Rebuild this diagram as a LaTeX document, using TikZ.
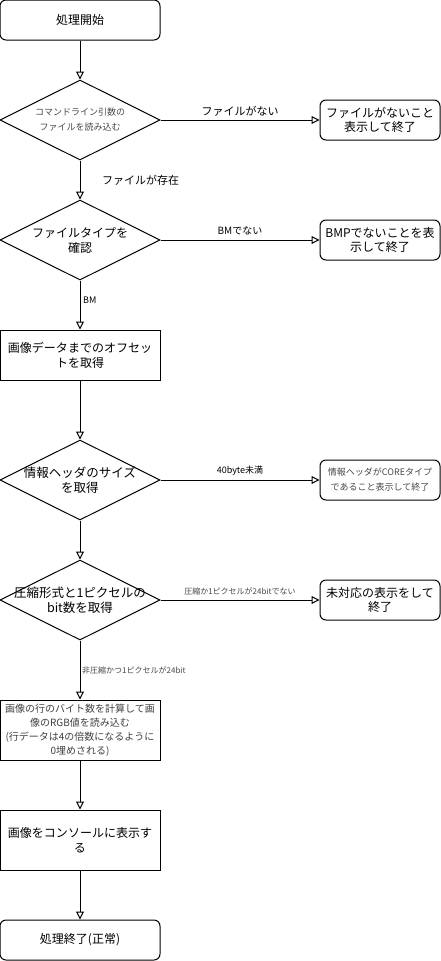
\documentclass[tikz,border=0pt]{standalone}
\usepackage{fontspec}
\setmainfont{Noto Sans CJK JP}
\usetikzlibrary{arrows.meta,shapes.geometric}
\tikzset{
  base/.style={draw=black, line width=1pt, inner sep=1pt, align=center, font=\fontsize{12}{15}\selectfont},
  rbox/.style={base, rounded corners=6pt, minimum width=160pt, minimum height=40pt},
  sbox/.style={base, rounded corners=6pt, minimum width=120pt, minimum height=40pt},
  pbox/.style={base, minimum width=160pt},
  dia/.style={draw=black, line width=1pt, diamond, minimum width=160pt, minimum height=80pt, aspect=2, inner sep=0pt},
  dtext/.style={align=center, inner sep=0pt, font=\fontsize{12}{15}\selectfont},
  gsmall/.style={text=black!72, font=\fontsize{9}{15}\selectfont},
  lbl/.style={font=\fontsize{11}{13}\selectfont, inner sep=1pt},
  lbls/.style={font=\fontsize{9}{11}\selectfont, inner sep=1pt},
  lblg/.style={font=\fontsize{8}{10}\selectfont, text=black!72, inner sep=1pt},
  arr/.style={draw=black, line width=1pt, -{Triangle[open, length=8pt, width=8pt, fill=white]}},
}
\begin{document}
\begin{tikzpicture}[x=1pt, y=-1pt]
\useasboundingbox (0,0) rectangle (441,961);
% main column
\node[rbox] (start) at (80,20) {処理開始};
\node[dia] (d1) at (80,120) {};
\node[dtext, gsmall] (d1t) at (d1) {コマンドライン引数の\\ファイルを読み込む};
\node[dia] (d2) at (80,240) {};
\node[dtext] (d2t) at (d2) {ファイルタイプを\\確認};
\node[pbox, minimum height=50pt] (b3) at (80,355) {画像データまでのオフセッ\\トを取得};
\node[dia] (d4) at (80,480) {};
\node[dtext, font=\fontsize{12.5}{15}\selectfont] (d4t) at (d4) {情報ヘッダのサイズ\\を取得};
\node[dia] (d5) at (80,600) {};
\node[dtext, font=\fontsize{12.5}{15}\selectfont] (d5t) at (d5) {圧縮形式と1ピクセルの\\bit数を取得};
\node[pbox, minimum height=60pt, font=\fontsize{10}{14}\selectfont, text=black!75] (b6) at (80,730) {画像の行のバイト数を計算して画\\像のRGB値を読み込む\\(行データは4の倍数になるように\\0埋めされる)};
\node[pbox, minimum height=60pt] (b7) at (80,840) {画像をコンソールに表示す\\る};
\node[rbox] (end) at (80,940) {処理終了(正常)};
% right column
\node[sbox, font=\fontsize{12}{14}\selectfont] (e1) at (380,120) {ファイルがないこと\\表示して終了};
\node[sbox, font=\fontsize{12}{14}\selectfont] (e2) at (380,240) {BMPでないことを表\\示して終了};
\node[sbox, font=\fontsize{9}{15}\selectfont, text=black!72] (e4) at (380,480) {情報ヘッダがCOREタイプ\\であること表示して終了};
\node[sbox, font=\fontsize{12}{14}\selectfont] (e5) at (380,600) {未対応の表示をして\\終了};
% connectors
\draw[arr] (start.south) -- (d1.north);
\draw[arr] (d1.east) -- (e1.west) node[midway, above=2pt, lbl] {ファイルがない};
\draw[arr] (d1.south) -- (d2.north);
\node[lbl, anchor=west] (l1) at (101,180) {ファイルが存在};
\draw[arr] (d2.east) -- (e2.west) node[midway, above=3pt, lbls, font=\fontsize{10}{12}\selectfont] {BMでない};
\draw[arr] (d2.south) -- (b3.north);
\node[lbls, anchor=west] (l2) at (82,300) {BM};
\draw[arr] (b3.south) -- (d4.north);
\draw[arr] (d4.east) -- (e4.west) node[midway, above=3pt, lbls] {40byte未満};
\draw[arr] (d4.south) -- (d5.north);
\draw[arr] (d5.east) -- (e5.west) node[midway, above=3pt, lblg] {圧縮か1ピクセルが24bitでない};
\draw[arr] (d5.south) -- (b6.north);
\node[lblg, anchor=west] (l3) at (81,670) {非圧縮かつ1ピクセルが24bit};
\draw[arr] (b6.south) -- (b7.north);
\draw[arr] (b7.south) -- (end.north);
\end{tikzpicture}
\end{document}
